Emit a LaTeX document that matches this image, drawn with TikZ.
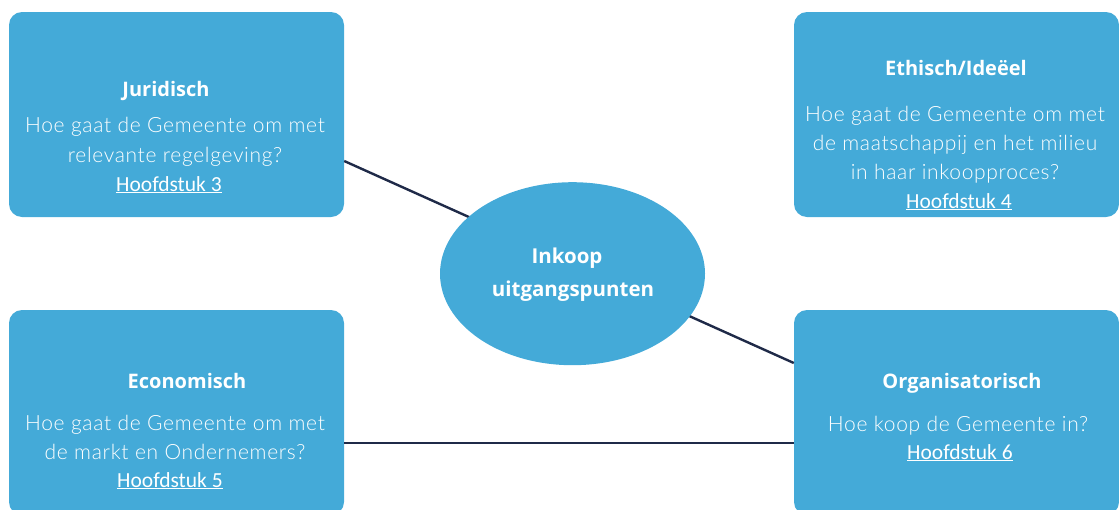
\documentclass[tikz,border=0pt]{standalone}
\usepackage{fontspec}
\setmainfont{Lato}[UprightFont={* Light},LetterSpace=3.2]
\newfontfamily\titlef{Open Sans}
\newfontfamily\linkf{Carlito}
\usetikzlibrary{shapes.geometric}
\definecolor{boxblue}{HTML}{44AAD8}
\definecolor{linknavy}{HTML}{1F2A48}
\tikzset{
  box/.style={draw=none,fill=boxblue,rounded corners=13pt,minimum width=335pt,minimum height=205pt,inner sep=0pt},
  title/.style={text=white,font=\titlef\bfseries\fontsize{20}{23}\selectfont,anchor=base,inner sep=0pt},
  body/.style={text=white,font=\fontsize{21}{24}\selectfont,anchor=base,inner sep=0pt},
  link/.style={text=white,font=\linkf\fontsize{21.5}{24}\selectfont,anchor=base,inner sep=0pt},
  conn/.style={draw=linknavy,line width=2.4pt},
}
\newcommand{\ul}[1]{\underline{#1}}
\begin{document}
\begin{tikzpicture}[x=1pt,y=-1pt]
\useasboundingbox (0,0) rectangle (1119,509);
% boxes
\node[box] (jur) at (176.5,114.5) {};
\node[box,minimum width=325pt] (eth) at (956.5,114.5) {};
\node[box] (eco) at (176.5,412.5) {};
\node[box,minimum width=325pt] (org) at (956.5,412.5) {};
% connectors
\draw[conn] ([yshift=-46.5pt]jur.east) -- ([yshift=49.5pt]org.west);
\draw[conn] ([yshift=-30.5pt]eco.east) -- ([yshift=-30.5pt]org.west);
% centre ellipse
\node[ellipse,fill=boxblue,minimum width=265pt,minimum height=183pt,inner sep=0pt] (ink) at (572.5,273.7) {};
\node[title,font=\titlef\bfseries\fontsize{20.5}{24}\selectfont] (inkA) at (567,263) {Inkoop};
\node[title,font=\titlef\bfseries\fontsize{20.5}{24}\selectfont] (inkB) at (573,296) {uitgangspunten};
% Juridisch
\node[title] (jurT) at (166,96) {Juridisch};
\node[body] (jurB1) at (175,132) {Hoe gaat de Gemeente om met};
\node[body] (jurB2) at (175,162) {relevante regelgeving?};
\node[link] (jurL) at (169,191) {\ul{Hoofdstuk 3}};
% Ethisch
\node[title] (ethT) at (956,75) {Ethisch/Ideëel};
\node[body] (ethB1) at (955,121) {Hoe gaat de Gemeente om met};
\node[body] (ethB2) at (955,150) {de maatschappij en het milieu};
\node[body] (ethB3) at (955,179) {in haar inkoopproces?};
\node[link] (ethL) at (959,208) {\ul{Hoofdstuk 4}};
% Economisch
\node[title] (ecoT) at (187,388) {Economisch};
\node[body] (ecoB1) at (175,430) {Hoe gaat de Gemeente om met};
\node[body] (ecoB2) at (175,459) {de markt en Ondernemers?};
\node[link] (ecoL) at (170,487) {\ul{Hoofdstuk 5}};
% Organisatorisch
\node[title] (orgT) at (962,388) {Organisatorisch};
\node[body] (orgB1) at (958,431) {Hoe koop de Gemeente in?};
\node[link] (orgL) at (960,459) {\ul{Hoofdstuk 6}};
\end{tikzpicture}
\end{document}
